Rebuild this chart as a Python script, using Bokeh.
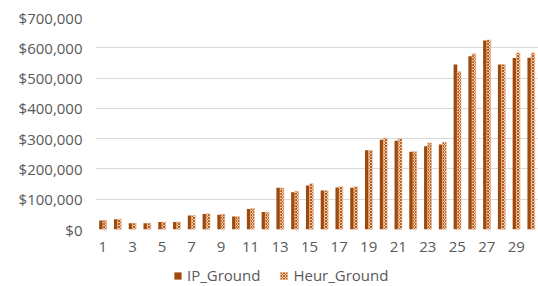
from bokeh.plotting import figure
from bokeh.layouts import column
from bokeh.models import ColumnDataSource, FixedTicker, NumeralTickFormatter, Legend, LegendItem, Range1d
from bokeh.transform import dodge
from bokeh.embed import file_html
from bokeh.resources import INLINE

categories = list(range(1, 31))
tick_labels = [1, 3, 5, 7, 9, 11, 13, 15, 17, 19, 21, 23, 25, 27, 29]
ip_ground = [30000, 34000, 21000, 21000, 25000, 25000, 46000, 51000, 49000, 43000,
             68000, 58000, 138000, 123000, 145000, 129000, 139000, 138000, 262000, 296000,
             293000, 257000, 275000, 281000, 545000, 572000, 624000, 545000, 566000, 567000]
heur_ground = [30000, 34000, 21000, 21000, 25000, 25000, 46000, 52000, 50000, 43000,
               69000, 57000, 137000, 126000, 151000, 128000, 141000, 141000, 261000, 302000,
               300000, 257000, 286000, 288000, 521000, 580000, 626000, 545000, 583000, 583000]
series_names = ["IP_Ground", "Heur_Ground"]

src = ColumnDataSource(dict(cat=categories, ip=ip_ground, heur=heur_ground))

FONT = "Open Sans"
TXT = "#595959"
IP_STYLE = dict(fill_color="#9E4A0C", line_color=None)
HEUR_STYLE = dict(fill_color="#F3CDAE", line_color="#EDB48A", line_width=0.6,
                  hatch_pattern="diagonal_cross", hatch_color="#B05A1C", hatch_scale=3,
                  hatch_weight=1)

p = figure(width=538, height=258, output_backend="svg", toolbar_location=None,
           x_range=Range1d(0.5, 30.5), y_range=Range1d(0, 700000),
           min_border_left=95, min_border_top=17, min_border_right=0, min_border_bottom=29)
p.outline_line_color = None

bw = 0.25
p.vbar(x=dodge("cat", -0.125), top="ip", width=bw, source=src, **IP_STYLE)
p.vbar(x=dodge("cat", 0.125), top="heur", width=bw, source=src, **HEUR_STYLE)

p.xgrid.grid_line_color = None
p.ygrid.grid_line_color = "#D9D9D9"
p.ygrid.grid_line_width = 1

p.yaxis.ticker = FixedTicker(ticks=list(range(0, 700001, 100000)))
p.yaxis.formatter = NumeralTickFormatter(format="$0,0")
p.xaxis.ticker = FixedTicker(ticks=tick_labels)
for ax in (p.xaxis, p.yaxis):
    ax.axis_line_color = None
    ax.major_tick_line_color = None
    ax.minor_tick_line_color = None
    ax.major_label_text_font = FONT
    ax.major_label_text_font_size = "15px"
    ax.major_label_text_color = TXT
p.yaxis.major_label_standoff = 7
p.xaxis.major_label_standoff = 6

# legend strip (its frame is aligned with the main frame by the column layout)
lg = figure(width=538, height=28, output_backend="svg", toolbar_location=None,
            x_range=Range1d(0, 1), y_range=Range1d(0, 1),
            x_axis_location=None, y_axis_location=None,
            min_border_left=95, min_border_right=0, min_border_top=0, min_border_bottom=0)
lg.outline_line_color = None
lg.xgrid.grid_line_color = None
lg.ygrid.grid_line_color = None
proxy = ColumnDataSource(dict(x=[-1], top=[0]))
l1 = lg.vbar(x="x", top="top", width=0.1, source=proxy, **IP_STYLE)
l2 = lg.vbar(x="x", top="top", width=0.1, source=proxy, **HEUR_STYLE)
legend = Legend(items=[LegendItem(label=series_names[0], renderers=[l1], index=0),
                       LegendItem(label=series_names[1], renderers=[l2], index=0)],
                orientation="horizontal", location=(78, 1),
                glyph_width=9, glyph_height=9, label_standoff=5, spacing=19,
                label_text_font=FONT, label_text_font_size="15px", label_text_color=TXT,
                border_line_color=None, background_fill_alpha=0, padding=0, margin=0)
lg.add_layout(legend, "center")

layout = column(p, lg, spacing=0)
open("out.html", "w").write(file_html(layout, INLINE))
